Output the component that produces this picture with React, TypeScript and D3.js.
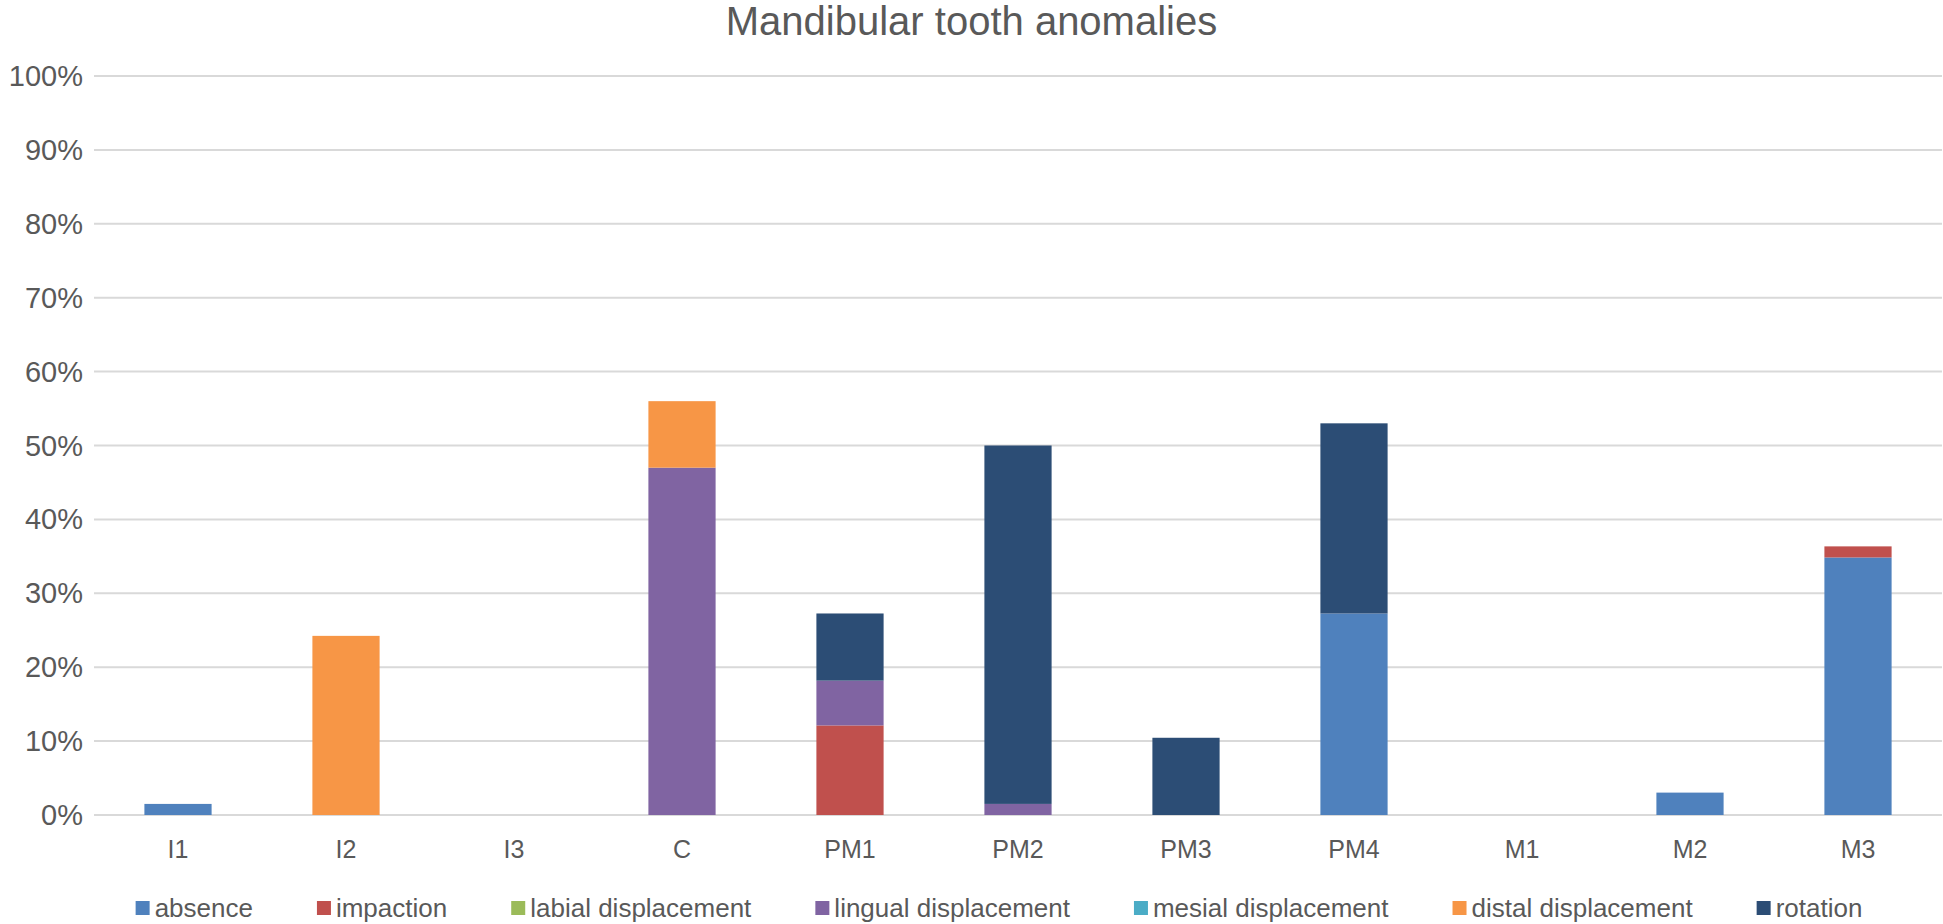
import React, { useEffect, useRef } from "react";
import * as d3 from "d3";

const categories = ["I1", "I2", "I3", "C", "PM1", "PM2", "PM3", "PM4", "M1", "M2", "M3"];
const seriesNames = [
  "absence",
  "impaction",
  "labial displacement",
  "lingual displacement",
  "mesial displacement",
  "distal displacement",
  "rotation",
];
const seriesColors = ["#4f81bd", "#c0504d", "#9bbb59", "#8064a2", "#4bacc6", "#f79646", "#2c4d75"];

const absence = [1.5, 0, 0, 0, 0, 0, 0, 27.27, 0, 3.03, 34.85];
const impaction = [0, 0, 0, 0, 12.12, 0, 0, 0, 0, 0, 1.5];
const labial = [0, 0, 0, 0, 0, 0, 0, 0, 0, 0, 0];
const lingual = [0, 0, 0, 47, 6.06, 1.5, 0, 0, 0, 0, 0];
const mesial = [0, 0, 0, 0, 0, 0, 0, 0, 0, 0, 0];
const distal = [0, 24.24, 0, 9, 0, 0, 0, 0, 0, 0, 0];
const rotation = [0, 0, 0, 0, 9.09, 48.5, 10.45, 25.73, 0, 0, 0];

const yTicks = [0, 10, 20, 30, 40, 50, 60, 70, 80, 90, 100];
const title = "Mandibular tooth anomalies";

const W = 1943;
const H = 924;
const FONT = "'Liberation Sans', Arial, sans-serif";
const TEXT = "#595959";

export default function App() {
  const ref = useRef<SVGSVGElement | null>(null);

  useEffect(() => {
    const svg = d3.select(ref.current);
    svg.selectAll("*").remove();

    const left = 94, right = 1942, top = 76, bottom = 815;
    const x = d3.scaleBand<string>().domain(categories).range([left, right]).paddingInner(0.6).paddingOuter(0.3);
    const y = d3.scaleLinear().domain([0, 100]).range([bottom, top]);

    svg.append("rect").attr("width", W).attr("height", H).attr("fill", "#ffffff");

    svg.append("text")
      .attr("x", W / 2).attr("y", 35)
      .attr("text-anchor", "middle")
      .attr("font-family", FONT).attr("font-size", 40).attr("fill", TEXT)
      .text(title);

    const g = svg.append("g");
    g.selectAll("line.grid").data(yTicks).enter().append("line")
      .attr("x1", left).attr("x2", right)
      .attr("y1", (d) => y(d)).attr("y2", (d) => y(d))
      .attr("stroke", "#d9d9d9").attr("stroke-width", 2);

    g.selectAll("text.ytick").data(yTicks).enter().append("text")
      .attr("x", 83).attr("y", (d) => y(d) + 10)
      .attr("text-anchor", "end")
      .attr("font-family", FONT).attr("font-size", 29).attr("fill", TEXT)
      .text((d) => `${d}%`);

    const table = categories.map((c, i) => ({
      cat: c,
      s0: absence[i], s1: impaction[i], s2: labial[i], s3: lingual[i],
      s4: mesial[i], s5: distal[i], s6: rotation[i],
    }));
    const keys = ["s0", "s1", "s2", "s3", "s4", "s5", "s6"];
    const stacked = d3.stack<any>().keys(keys)(table);

    stacked.forEach((layer, li) => {
      g.append("g").selectAll("rect").data(layer).enter().append("rect")
        .attr("x", (d: any) => x(d.data.cat) as number)
        .attr("width", x.bandwidth())
        .attr("y", (d: any) => y(d[1]))
        .attr("height", (d: any) => Math.max(0, y(d[0]) - y(d[1])))
        .attr("fill", seriesColors[li]);
    });

    g.selectAll("text.xtick").data(categories).enter().append("text")
      .attr("x", (d) => (x(d) as number) + x.bandwidth() / 2)
      .attr("y", 858)
      .attr("text-anchor", "middle")
      .attr("font-family", FONT).attr("font-size", 25).attr("fill", TEXT)
      .text((d) => d);

    // legend
    const lg = svg.append("g");
    const items = seriesNames.map((name, i) => {
      const it = lg.append("g");
      it.append("rect").attr("x", 0).attr("y", 901).attr("width", 14).attr("height", 14).attr("fill", seriesColors[i]);
      const t = it.append("text").attr("x", 19).attr("y", 917)
        .attr("font-family", FONT).attr("font-size", 26).attr("fill", TEXT).text(name);
      const w = (t.node() as SVGTextElement).getComputedTextLength();
      return { it, w: 19 + w };
    });
    const gap = 64;
    const total = d3.sum(items, (d) => d.w) + gap * (items.length - 1);
    let cx = 999 - total / 2;
    items.forEach((d) => {
      d.it.attr("transform", `translate(${cx},0)`);
      cx += d.w + gap;
    });
  }, []);

  return (
    <svg ref={ref} width={W} height={H} style={{ display: "block", position: "absolute", left: 0, top: 0 }} />
  );
}
